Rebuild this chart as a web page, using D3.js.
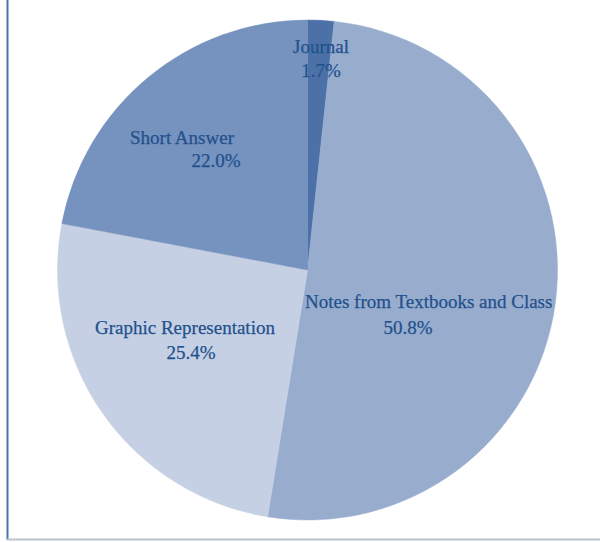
<!DOCTYPE html>
<html>
<head>
<meta charset="utf-8">
<script src="https://d3js.org/d3.v7.min.js"></script>
<style>
html,body{margin:0;padding:0;background:#fff;}
svg{display:block;}
</style>
</head>
<body>
<svg id="chart" width="600" height="542"></svg>
<script>
const categories = ["Journal", "Notes from Textbooks and Class", "Graphic Representation", "Short Answer"];
const values = [1.7, 50.8, 25.4, 22.0];
const valueLabels = ["1.7%", "50.8%", "25.4%", "22.0%"];
const colors = ["#4b71a8", "#98acce", "#c6d0e4", "#7692be"];
// label placement: [label x, label y, value x, value y, anchor]
const labelPos = [
  [321, 53, 321, 77, "middle"],
  [305, 308, 408, 334, "start"],
  [95, 334, 191, 359, "start"],
  [130, 144, 216, 167, "start"]
];

const svg = d3.select("#chart");
const cx = 307.5, cy = 270, r = 250;

// frame lines
svg.append("line").attr("x1", 7.5).attr("x2", 7.5).attr("y1", 0).attr("y2", 540)
  .attr("stroke", "#4a72b0").attr("stroke-width", 2);
svg.append("line").attr("x1", 7).attr("x2", 600).attr("y1", 539.5).attr("y2", 539.5)
  .attr("stroke", "#b9c4d2").attr("stroke-width", 2);

const data = categories.map((c, i) => ({cat: c, value: values[i], label: valueLabels[i], i}));
const pie = d3.pie().value(d => d.value).sort(null).startAngle(0).endAngle(2 * Math.PI);
const arc = d3.arc().innerRadius(0).outerRadius(r);

const g = svg.append("g").attr("transform", `translate(${cx},${cy})`);
g.selectAll("path").data(pie(data)).join("path")
  .attr("d", arc)
  .attr("fill", d => colors[d.data.i])
  .attr("stroke", d => colors[d.data.i])
  .attr("stroke-width", 0.5);

const tg = svg.append("g")
  .attr("font-family", "'Liberation Serif', 'Times New Roman', serif")
  .attr("font-size", 19)
  .attr("fill", "#22518c")
  .attr("stroke", "#22518c")
  .attr("stroke-width", 0.25);

data.forEach((d, i) => {
  const p = labelPos[i];
  tg.append("text").attr("x", p[0]).attr("y", p[1]).attr("text-anchor", p[4]).text(d.cat);
  tg.append("text").attr("x", p[2]).attr("y", p[3]).attr("text-anchor", "middle").text(d.label);
});
</script>
</body>
</html>
